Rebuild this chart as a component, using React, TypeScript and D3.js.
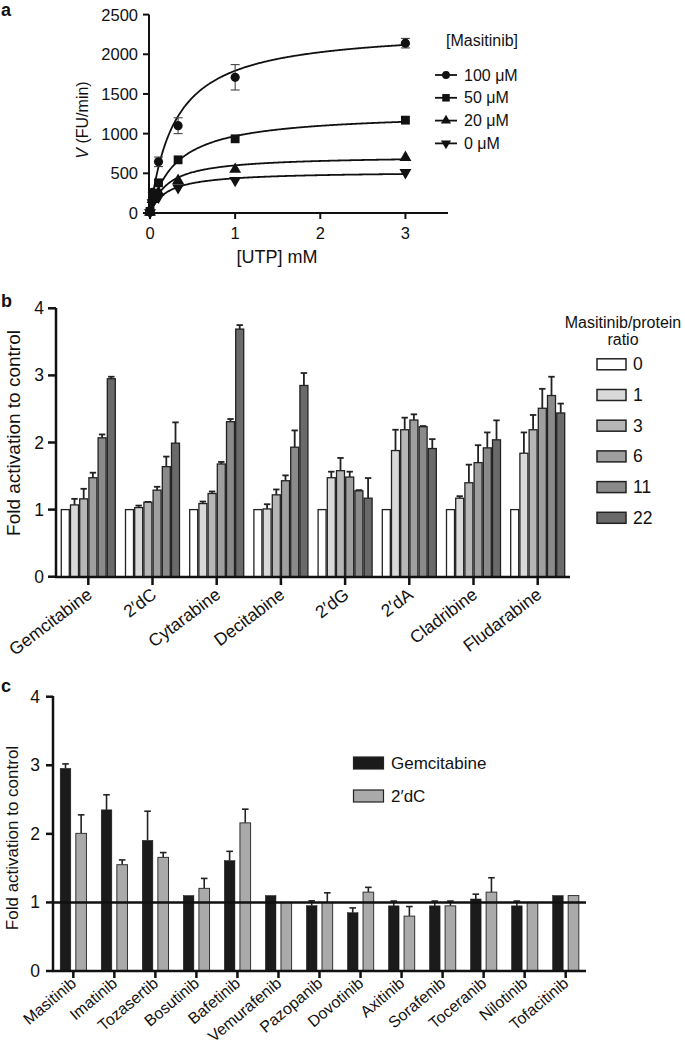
import React from 'react';
import * as d3 from 'd3';

// ---------- Panel a data ----------
const utpConc = [0, 0.03, 0.1, 0.33, 1, 3];
const masitinibLevels = ['100 μM', '50 μM', '20 μM', '0 μM'];
const v100 = [30, 260, 645, 1100, 1710, 2140];
const v50 = [20, 250, 380, 670, 935, 1170];
const v20 = [10, 170, 260, 410, 550, 700];
const v0 = [5, 130, 200, 320, 410, 510];
const err100 = [0, 0, 60, 100, 160, 60];
const err50 = [0, 0, 0, 0, 0, 0];
const err20 = [0, 0, 0, 0, 0, 0];
const err0 = [0, 0, 0, 0, 0, 0];
const fitVmax = [2330, 1268, 722, 524];
const fitKm = [0.3, 0.309, 0.203, 0.198];
const aYTicks = [0, 500, 1000, 1500, 2000, 2500];
const aXTicks = [0, 1, 2, 3];

// ---------- Panel b data ----------
const nucleosides = ['Gemcitabine', '2′dC', 'Cytarabine', 'Decitabine', '2′dG', '2′dA', 'Cladribine', 'Fludarabine'];
const ratioKeys = ['0', '1', '3', '6', '11', '22'];
const ratio0Mean = [1, 1, 1, 1, 1, 1, 1, 1];
const ratio1Mean = [1.07, 1.03, 1.09, 1.01, 1.475, 1.88, 1.17, 1.84];
const ratio3Mean = [1.16, 1.11, 1.24, 1.22, 1.58, 2.19, 1.4, 2.19];
const ratio6Mean = [1.475, 1.29, 1.68, 1.43, 1.485, 2.335, 1.7, 2.51];
const ratio11Mean = [2.07, 1.64, 2.31, 1.93, 1.28, 2.235, 1.92, 2.7];
const ratio22Mean = [2.95, 1.99, 3.69, 2.85, 1.17, 1.91, 2.04, 2.44];
const ratio0Err = [0, 0, 0, 0, 0, 0, 0, 0];
const ratio1Err = [0.09, 0.03, 0.03, 0.07, 0.09, 0.31, 0.03, 0.31];
const ratio3Err = [0.15, 0.005, 0.03, 0.08, 0.19, 0.18, 0.27, 0.22];
const ratio6Err = [0.075, 0.05, 0.03, 0.08, 0.08, 0.085, 0.26, 0.29];
const ratio11Err = [0.05, 0.15, 0.04, 0.25, 0.01, 0.01, 0.23, 0.28];
const ratio22Err = [0.03, 0.31, 0.06, 0.185, 0.3, 0.14, 0.29, 0.14];
const ratioColors = ['#ffffff', '#d9d9d9', '#b6b6b6', '#9f9f9f', '#8a8a8a', '#6a6a6a'];
const bYTicks = [0, 1, 2, 3, 4];

// ---------- Panel c data ----------
const kinaseInhibitors = ['Masitinib', 'Imatinib', 'Tozasertib', 'Bosutinib', 'Bafetinib', 'Vemurafenib', 'Pazopanib', 'Dovotinib', 'Axitinib', 'Sorafenib', 'Toceranib', 'Nilotinib', 'Tofacitinib'];
const substrates = ['Gemcitabine', '2′dC'];
const gemMean = [2.955, 2.35, 1.905, 1.1, 1.61, 1.1, 0.953, 0.85, 0.95, 0.95, 1.05, 0.95, 1.1];
const gemErr = [0.065, 0.22, 0.425, 0, 0.135, 0, 0.07, 0.07, 0.07, 0.07, 0.07, 0.07, 0];
const dcMean = [2.007, 1.55, 1.657, 1.205, 2.16, 1.0, 1.0, 1.15, 0.8, 0.95, 1.15, 1.0, 1.1];
const dcErr = [0.27, 0.07, 0.07, 0.145, 0.2, 0, 0.14, 0.07, 0.14, 0.07, 0.21, 0, 0];
const substrateColors = ['#1b1b1b', '#aaaaaa'];
const cYTicks = [0, 1, 2, 3, 4];
const referenceLevel = 1;

const FONT = '"Liberation Sans", Arial, Helvetica, sans-serif';

function PanelA() {
  const x = d3.scaleLinear().domain([0, 3.5]).range([150, 448]);
  const y = d3.scaleLinear().domain([0, 2500]).range([213, 14.6]);
  const series = [v100, v50, v20, v0];
  const errs = [err100, err50, err20, err0];
  const symbols = [
    d3.symbol().type(d3.symbolCircle).size(66)(),
    d3.symbol().type(d3.symbolSquare).size(78)(),
    d3.symbol().type(d3.symbolTriangle).size(62)(),
    d3.symbol().type(d3.symbolTriangle).size(62)(),
  ];
  const rot = [0, 0, 0, 180];
  const fitXs = d3.range(0, 3.0001, 0.01);
  return (
    <g>
      <text x={1} y={16} fontSize={18} fontWeight="bold">a</text>
      {/* axes */}
      <line x1={149} x2={149} y1={14.6} y2={214} stroke="#111" strokeWidth={2} />
      <line x1={148} x2={448} y1={213} y2={213} stroke="#111" strokeWidth={2} />
      {aYTicks.map((t) => (
        <g key={t}>
          <line x1={143} x2={149} y1={y(t)} y2={y(t)} stroke="#111" strokeWidth={2} />
          <text x={138} y={y(t)} textAnchor="end" dominantBaseline="central" fontSize={16.5}>{t}</text>
        </g>
      ))}
      {aXTicks.map((t) => (
        <g key={t}>
          <line x1={x(t)} x2={x(t)} y1={213} y2={219} stroke="#111" strokeWidth={2} />
          <text x={x(t)} y={233} textAnchor="middle" dominantBaseline="central" fontSize={16.5}>{t}</text>
        </g>
      ))}
      <text x={277} y={257} textAnchor="middle" dominantBaseline="central" fontSize={18}>[UTP] mM</text>
      <text transform={`translate(82,120) rotate(-90)`} textAnchor="middle" dominantBaseline="central" fontSize={16}>
        <tspan fontStyle="italic">V</tspan> (FU/min)
      </text>
      {/* fitted curves */}
      {fitVmax.map((vm, k) => {
        const km = fitKm[k];
        const path = d3.line<number>().x((d) => x(d)).y((d) => y((vm * d) / (km + d)))(fitXs) || '';
        return <path key={k} d={path} fill="none" stroke="#111" strokeWidth={1.8} />;
      })}
      {/* error bars */}
      {series.map((s, k) =>
        s.map((v, i) => {
          const e = errs[k][i];
          if (!e) return null;
          const cx = x(utpConc[i]);
          return (
            <g key={`e${k}-${i}`} stroke="#444" strokeWidth={1.1}>
              <line x1={cx} x2={cx} y1={y(v - e)} y2={y(v + e)} />
              <line x1={cx - 4.5} x2={cx + 4.5} y1={y(v - e)} y2={y(v - e)} />
              <line x1={cx - 4.5} x2={cx + 4.5} y1={y(v + e)} y2={y(v + e)} />
            </g>
          );
        })
      )}
      {/* markers */}
      {series.map((s, k) =>
        s.map((v, i) => (
          <path key={`m${k}-${i}`} d={symbols[k]} transform={`translate(${x(utpConc[i])},${y(v)}) rotate(${rot[k]})`} fill="#111" />
        ))
      )}
      {/* legend */}
      <text x={446} y={40} dominantBaseline="central" fontSize={16}>[Masitinib]</text>
      {masitinibLevels.map((lab, k) => {
        const ly = 75 + k * 22.8;
        return (
          <g key={lab}>
            <line x1={435} x2={457} y1={ly} y2={ly} stroke="#111" strokeWidth={1.8} />
            <path d={symbols[k]} transform={`translate(446,${ly}) rotate(${rot[k]}) scale(0.85)`} fill="#111" />
            <text x={464} y={ly} dominantBaseline="central" fontSize={16}>{lab}</text>
          </g>
        );
      })}
    </g>
  );
}

function PanelB() {
  const means = [ratio0Mean, ratio1Mean, ratio3Mean, ratio6Mean, ratio11Mean, ratio22Mean];
  const errs = [ratio0Err, ratio1Err, ratio3Err, ratio6Err, ratio11Err, ratio22Err];
  const x0 = d3.scaleBand<string>().domain(nucleosides).range([56.2, 569.8]).paddingInner(0.14).paddingOuter(0.07);
  const x1 = d3.scaleBand<string>().domain(ratioKeys).range([0, x0.bandwidth()]).padding(0);
  const y = d3.scaleLinear().domain([0, 4]).range([576.7, 308.3]);
  return (
    <g>
      <text x={1} y={307} fontSize={18} fontWeight="bold">b</text>
      {nucleosides.map((n, i) => (
        <g key={n} transform={`translate(${x0(n)},0)`}>
          {ratioKeys.map((r, k) => {
            const v = means[k][i];
            const e = errs[k][i];
            const bx = x1(r) as number;
            const bw = x1.bandwidth();
            return (
              <g key={r}>
                {e > 0 && (
                  <g stroke="#222" strokeWidth={1.8}>
                    <line x1={bx + bw / 2} x2={bx + bw / 2} y1={y(v)} y2={y(v + e)} />
                    <line x1={bx + bw / 2 - 3.2} x2={bx + bw / 2 + 3.2} y1={y(v + e)} y2={y(v + e)} />
                  </g>
                )}
                <rect x={bx + 0.6} y={y(v)} width={bw - 1.2} height={y(0) - y(v)} fill={ratioColors[k]} stroke="#222" strokeWidth={1.3} />
              </g>
            );
          })}
        </g>
      ))}
      <line x1={56} x2={56} y1={308} y2={578} stroke="#111" strokeWidth={2.5} />
      <line x1={55} x2={570} y1={577} y2={577} stroke="#111" strokeWidth={2.5} />
      {bYTicks.map((t) => (
        <g key={t}>
          <line x1={48} x2={56} y1={y(t)} y2={y(t)} stroke="#111" strokeWidth={2.5} />
          <text x={44} y={y(t)} textAnchor="end" dominantBaseline="central" fontSize={17.5}>{t}</text>
        </g>
      ))}
      {nucleosides.map((n) => {
        const cx = (x0(n) as number) + x0.bandwidth() / 2;
        return (
          <g key={n}>
            <line x1={cx} x2={cx} y1={577} y2={585} stroke="#111" strokeWidth={2.5} />
            <text transform={`translate(${cx + 5},${597}) rotate(-37)`} textAnchor="end" fontSize={17.5}>{n}</text>
          </g>
        );
      })}
      <text transform={`translate(13,433) rotate(-90)`} textAnchor="middle" dominantBaseline="central" fontSize={19}>Fold activation to control</text>
      {/* legend */}
      <text x={623} y={328} textAnchor="middle" fontSize={16}>Masitinib/protein</text>
      <text x={623} y={345} textAnchor="middle" fontSize={16}>ratio</text>
      {ratioKeys.map((r, k) => {
        const ly = 364.3 + k * 30.7;
        return (
          <g key={r}>
            <rect x={597} y={ly - 5.5} width={29} height={11} fill={ratioColors[k]} stroke="#222" strokeWidth={1.5} />
            <text x={633} y={ly} dominantBaseline="central" fontSize={17.5}>{r}</text>
          </g>
        );
      })}
    </g>
  );
}

function PanelC() {
  const means = [gemMean, dcMean];
  const errs = [gemErr, dcErr];
  const x0 = d3.scaleBand<string>().domain(kinaseInhibitors).range([52.8, 586.2]).paddingInner(0.36).paddingOuter(0.18);
  const x1 = d3.scaleBand<string>().domain(substrates).range([0, x0.bandwidth()]).paddingInner(0.32);
  const y = d3.scaleLinear().domain([0, 4]).range([971, 696.7]);
  return (
    <g>
      <text x={1} y={692} fontSize={18} fontWeight="bold">c</text>
      {kinaseInhibitors.map((n, i) => (
        <g key={n} transform={`translate(${x0(n)},0)`}>
          {substrates.map((s, k) => {
            const v = means[k][i];
            const e = errs[k][i];
            const bx = x1(s) as number;
            const bw = x1.bandwidth();
            return (
              <g key={s}>
                {e > 0 && (
                  <g stroke="#222" strokeWidth={1.6}>
                    <line x1={bx + bw / 2} x2={bx + bw / 2} y1={y(v)} y2={y(v + e)} />
                    <line x1={bx + bw / 2 - 3.3} x2={bx + bw / 2 + 3.3} y1={y(v + e)} y2={y(v + e)} />
                  </g>
                )}
                <rect x={bx} y={y(v)} width={bw} height={y(0) - y(v)} fill={substrateColors[k]} stroke={k === 0 ? '#1b1b1b' : '#333'} strokeWidth={k === 0 ? 0.5 : 1} />
              </g>
            );
          })}
        </g>
      ))}
      <line x1={53} x2={586} y1={y(referenceLevel)} y2={y(referenceLevel)} stroke="#111" strokeWidth={2.5} />
      <line x1={53} x2={53} y1={696} y2={972} stroke="#111" strokeWidth={2.5} />
      <line x1={52} x2={586} y1={971} y2={971} stroke="#111" strokeWidth={2.5} />
      {cYTicks.map((t) => (
        <g key={t}>
          <line x1={46} x2={53} y1={y(t)} y2={y(t)} stroke="#111" strokeWidth={2.5} />
          <text x={40} y={y(t)} textAnchor="end" dominantBaseline="central" fontSize={17.5}>{t}</text>
        </g>
      ))}
      {kinaseInhibitors.map((n) => {
        const cx = (x0(n) as number) + x0.bandwidth() / 2;
        return (
          <g key={n}>
            <line x1={cx} x2={cx} y1={971} y2={978} stroke="#111" strokeWidth={2.5} />
            <text transform={`translate(${cx + 4},${985}) rotate(-40)`} textAnchor="end" fontSize={16}>{n}</text>
          </g>
        );
      })}
      <text transform={`translate(12,838) rotate(-90)`} textAnchor="middle" dominantBaseline="central" fontSize={17}>Fold activation to control</text>
      {/* legend */}
      {substrates.map((s, k) => {
        const ly = 763 + k * 33;
        return (
          <g key={s}>
            <rect x={353.5} y={ly - 6} width={30} height={12} fill={substrateColors[k]} stroke="#222" strokeWidth={1.2} />
            <text x={391} y={ly} dominantBaseline="central" fontSize={17}>{s}</text>
          </g>
        );
      })}
    </g>
  );
}

export default function App() {
  return (
    <svg
      width={685}
      height={1046}
      viewBox="0 0 685 1046"
      style={{ position: 'absolute', left: 0, top: 0, background: '#fff', fontFamily: FONT }}
      fill="#111"
    >
      <rect x={0} y={0} width={685} height={1046} fill="#fff" />
      <PanelA />
      <PanelB />
      <PanelC />
    </svg>
  );
}
